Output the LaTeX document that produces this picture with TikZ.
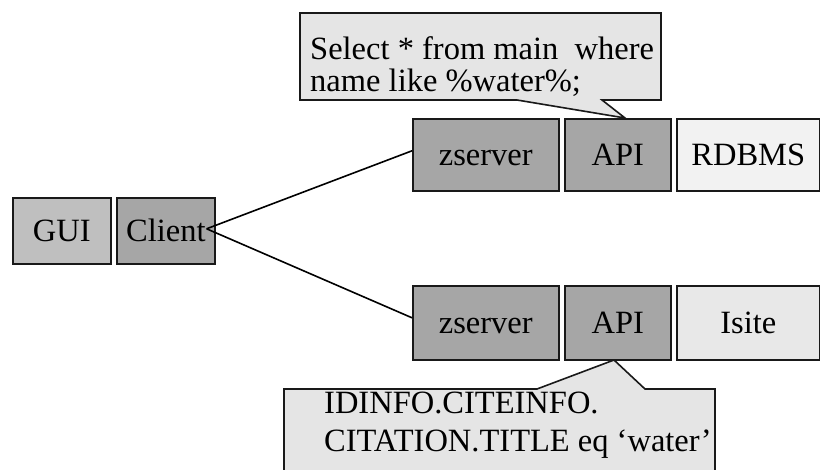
\documentclass[tikz,border=0pt]{standalone}
\usepackage{fontspec}
\setmainfont{Liberation Serif}
\begin{document}
\begin{tikzpicture}[x=1pt,y=-1pt,
  every node/.style={font=\fontsize{32.5}{38}\selectfont},
  box/.style={draw=black!90,line width=1.6pt,anchor=north west,inner sep=0pt,
    text height=22pt,text depth=0pt},
  dark/.style={box,fill=black!35},
  mid/.style={box,fill=black!25},
  pale/.style={box,fill=black!5},
  paler/.style={box,fill=black!9},
  callout/.style={draw=black!90,line width=1.6pt,fill=black!10,line join=miter},
  link/.style={draw=black,line width=1.6pt}]
\clip (0,0) rectangle (820,470);

% callout shapes, drawn first so the boxes sit on top of the pointers
\draw[callout] (300,13) -- (661,13) -- (661,100) -- (602,100) -- (625,118)
  -- (517,100) -- (300,100) -- cycle;
\draw[callout] (284,389) -- (537,389) -- (614,360) -- (645,389) -- (715,389)
  -- (715,490) -- (284,490) -- cycle;
% the base anchor of these two-line nodes is the baseline of the last line
\node[anchor=base west,align=left,inner sep=0pt,
  font=\fontsize{32.5}{32}\selectfont] (q1) at (310,92)
  {Select * from main\ \ where\\name like \%water\%;};
\node[anchor=base west,align=left,inner sep=0pt,
  font=\fontsize{32.5}{39}\selectfont] (q2) at (324,452)
  {IDINFO.CITEINFO.\\CITATION.TITLE eq ‘water’};

% client side
\node[mid,minimum width=98pt,minimum height=66pt] (gui) at (12,197) {GUI};
\node[dark,minimum width=98pt,minimum height=66pt] (client) at (116,197) {Client};

% upper server chain
\node[dark,minimum width=146pt,minimum height=72pt] (zs1) at (412,118) {zserver};
\node[dark,minimum width=106pt,minimum height=72pt] (api1) at (564,118) {API};
\node[pale,minimum width=143pt,minimum height=72pt] (rdbms) at (676,118) {RDBMS};

% lower server chain
\node[dark,minimum width=146pt,minimum height=74pt] (zs2) at (412,285) {zserver};
\node[dark,minimum width=106pt,minimum height=74pt] (api2) at (564,285) {API};
\node[paler,minimum width=143pt,minimum height=74pt] (isite) at (676,285) {Isite};

% connections from the client
\coordinate (cp) at ([xshift=-9pt,yshift=2pt]client.east);
\draw[link] (cp) -- ([yshift=4pt]zs1.west);
\draw[link] (cp) -- ([yshift=5pt]zs2.west);
\end{tikzpicture}
\end{document}
